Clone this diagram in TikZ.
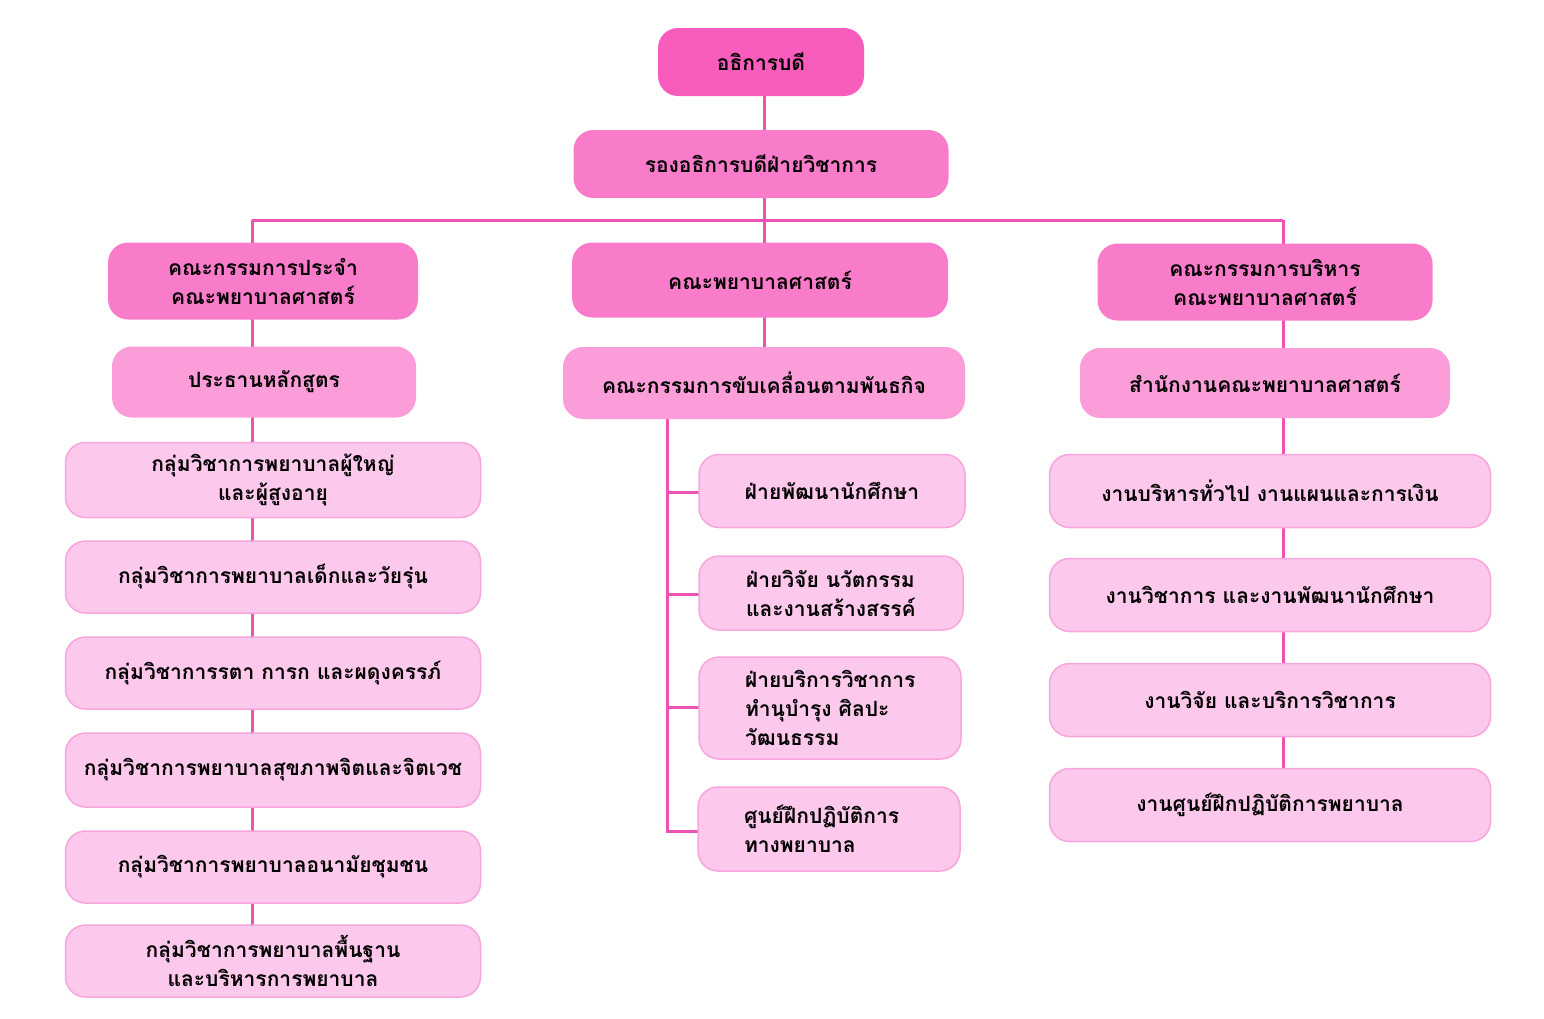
\documentclass[tikz,border=0pt]{standalone}
\usepackage{fontspec}
\newfontfamily\thaifont[Script=Thai]{Loma}
\definecolor{linepink}{HTML}{F052B4}
\definecolor{toppink}{HTML}{F85CBC}
\definecolor{midpink}{HTML}{F97CCB}
\definecolor{lowpink}{HTML}{FA9DD8}
\definecolor{listpink}{HTML}{FCC8EB}
\definecolor{listedge}{HTML}{F7A6DC}
\tikzset{
  box/.style={rounded corners=20pt, inner sep=0pt, align=center,
    font=\thaifont\bfseries\fontsize{21}{29}\selectfont},
  topbox/.style={box, fill=toppink},
  headbox/.style={box, fill=midpink},
  subbox/.style={box, fill=lowpink},
  listbox/.style={box, fill=listpink, draw=listedge, line width=1.5pt},
  leftbox/.style={listbox, align=left, text width=170pt},
  link/.style={draw=linepink, line width=3pt},
}
\begin{document}
\begin{tikzpicture}[x=1pt,y=-1pt]
  \useasboundingbox (0,0) rectangle (1544,1018);
%%
  % Lines
  \coordinate (spL) at (252,220);
  \coordinate (spC) at (764,220);
  \coordinate (spR) at (1283,220);
  \draw [link] (764,62) -- (spC) -- (764,383);
  \draw [link] (spL) -- (spR);
  \draw [link] (spL) -- (252,961);
  \draw [link] (spR) -- (1283,806);
  \draw [link] (667,383) -- (667,831) -- (720,831);
  \foreach \y in {492,594,707} {
    \draw [link] (667,\y) -- (720,\y);
  }
  % Top
  \node [topbox, minimum width=206pt, minimum height=68pt] (top) at (761,62) {อธิการบดี};
  \node [headbox, minimum width=375pt, minimum height=68pt] (rong) at (761,164) {รองอธิการบดีฝ่ายวิชาการ};
  % Level one
  \node [headbox, minimum width=310pt, minimum height=77pt] (L1) at (263,281) {คณะกรรมการประจำ\\คณะพยาบาลศาสตร์};
  \node [headbox, minimum width=376pt, minimum height=75pt] (M1) at (760,280) {คณะพยาบาลศาสตร์};
  \node [headbox, minimum width=335pt, minimum height=77pt] (R1) at (1265,282) {คณะกรรมการบริหาร\\คณะพยาบาลศาสตร์};
  % Level two
  \node [subbox, minimum width=304pt, minimum height=71pt] (L2) at (264,382) {ประธานหลักสูตร};
  \node [subbox, minimum width=402pt, minimum height=72pt] (M2) at (764,383) {คณะกรรมการขับเคลื่อนตามพันธกิจ};
  \node [subbox, minimum width=370pt, minimum height=70pt] (R2) at (1265,383) {สำนักงานคณะพยาบาลศาสตร์};
  % Left list
  \node [listbox, minimum width=415pt, minimum height=75pt] (g1) at (273,480) {กลุ่มวิชาการพยาบาลผู้ใหญ่\\และผู้สูงอายุ};
  \node [listbox, minimum width=415pt, minimum height=72pt] (g2) at (273,577) {กลุ่มวิชาการพยาบาลเด็กและวัยรุ่น};
  \node [listbox, minimum width=415pt, minimum height=72pt] (g3) at (273,673) {กลุ่มวิชาการรตา การก และผดุงครรภ์};
  \node [listbox, minimum width=415pt, minimum height=74pt] (g4) at (273,770) {กลุ่มวิชาการพยาบาลสุขภาพจิตและจิตเวช};
  \node [listbox, minimum width=415pt, minimum height=72pt] (g5) at (273,867) {กลุ่มวิชาการพยาบาลอนามัยชุมชน};
  \node [listbox, minimum width=415pt, minimum height=72pt] (g6) at (273,961) {กลุ่มวิชาการพยาบาลพื้นฐาน\\และบริหารการพยาบาล};
  % Middle list
  \node [listbox, minimum width=266pt, minimum height=73pt] (s1) at (832,491) {ฝ่ายพัฒนานักศึกษา};
  \node [leftbox, minimum width=264pt, minimum height=74pt] (s2) at (831,593) {ฝ่ายวิจัย นวัตกรรม\\และงานสร้างสรรค์};
  \node [leftbox, minimum width=262pt, minimum height=102pt] (s3) at (830,708) {ฝ่ายบริการวิชาการ\\ทำนุบำรุง ศิลปะ\\วัฒนธรรม};
  \node [leftbox, minimum width=262pt, minimum height=84pt] (s4) at (829,829) {ศูนย์ฝึกปฏิบัติการ\\ทางพยาบาล};
  % Right list
  \node [listbox, minimum width=441pt, minimum height=73pt] (w1) at (1270,491) {งานบริหารทั่วไป งานแผนและการเงิน};
  \node [listbox, minimum width=441pt, minimum height=73pt] (w2) at (1270,595) {งานวิชาการ และงานพัฒนานักศึกษา};
  \node [listbox, minimum width=441pt, minimum height=73pt] (w3) at (1270,700) {งานวิจัย และบริการวิชาการ};
  \node [listbox, minimum width=441pt, minimum height=73pt] (w4) at (1270,805) {งานศูนย์ฝึกปฏิบัติการพยาบาล};
%
\end{tikzpicture}
\end{document}
